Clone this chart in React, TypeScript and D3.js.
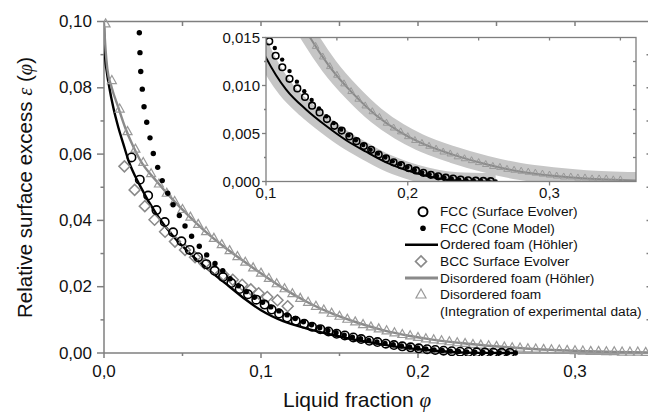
import React from 'react';
import * as d3 from 'd3';

const W = 648;
const H = 412;

// Ordered foam (Höhler) – black line
const ORDERED_PHI = [0, 0.0006, 0.0017, 0.0034, 0.0059, 0.0091, 0.0123, 0.0155, 0.0229, 0.0335, 0.0441, 0.0548, 0.0654, 0.0717, 0.08, 0.09, 0.1, 0.107, 0.1141, 0.1282, 0.1423, 0.1565, 0.1706, 0.1847, 0.1988, 0.2129, 0.227, 0.245, 0.262];
const ORDERED_EPS = [0.0985, 0.09, 0.0851, 0.0801, 0.0741, 0.0681, 0.0631, 0.0582, 0.0505, 0.0418, 0.0352, 0.03, 0.0256, 0.0231, 0.02, 0.0162, 0.0129, 0.0111, 0.0096, 0.0075, 0.0058, 0.0043, 0.0031, 0.002, 0.0012, 0.0006, 0.0002, 0.00003, 0];

// Disordered foam (Höhler) – gray line
const DIS_PHI = [0, 0.001, 0.0021, 0.0049, 0.0091, 0.0134, 0.0187, 0.0229, 0.0335, 0.0441, 0.0548, 0.0654, 0.076, 0.0866, 0.0973, 0.1142, 0.1306, 0.1447, 0.1611, 0.1776, 0.1941, 0.2082, 0.2317, 0.2553, 0.2788, 0.3023, 0.3258, 0.361];
const DIS_EPS = [0.0995, 0.0915, 0.0858, 0.0801, 0.0741, 0.0681, 0.0622, 0.0583, 0.0518, 0.0461, 0.041, 0.0363, 0.0322, 0.0285, 0.0249, 0.0195, 0.0151, 0.012, 0.0092, 0.0069, 0.0052, 0.0041, 0.0028, 0.0018, 0.00105, 0.0006, 0.0003, 0.0001];

// Disordered foam (integration of experimental data) – triangles
const TRI_PHI = [0.001, 0.005, 0.01, 0.015, 0.02, 0.025, 0.03, 0.035, 0.04, 0.045, 0.05, 0.055, 0.06, 0.065, 0.07, 0.075, 0.08, 0.085, 0.09, 0.095, 0.1, 0.105, 0.11, 0.115, 0.12, 0.125, 0.13, 0.135, 0.14, 0.145, 0.15, 0.155, 0.16, 0.165, 0.17, 0.175, 0.18, 0.185, 0.19, 0.195, 0.2, 0.205, 0.21, 0.215, 0.22, 0.225, 0.23, 0.235, 0.24, 0.245, 0.25, 0.255, 0.26, 0.265, 0.27, 0.275, 0.28, 0.285, 0.29, 0.295, 0.3, 0.305, 0.31, 0.315, 0.32, 0.325, 0.33, 0.335, 0.34, 0.345, 0.35];
const TRI_EPS = [0.0993, 0.0822, 0.0736, 0.0668, 0.0615, 0.0575, 0.0541, 0.051, 0.0482, 0.0457, 0.0433, 0.041, 0.0388, 0.0366, 0.0346, 0.0327, 0.0309, 0.0291, 0.0274, 0.0257, 0.0241, 0.0225, 0.0209, 0.0194, 0.0179, 0.0165, 0.0153, 0.0141, 0.013, 0.012, 0.0111, 0.0102, 0.0094, 0.0086, 0.0079, 0.0073, 0.0067, 0.0061, 0.0056, 0.0052, 0.0047, 0.0043, 0.004, 0.0037, 0.0034, 0.0031, 0.0029, 0.0026, 0.0024, 0.0022, 0.002, 0.0018, 0.0016, 0.0015, 0.0013, 0.0012, 0.0011, 0.001, 0.0009, 0.0008, 0.0007, 0.0006, 0.0005, 0.0005, 0.0004, 0.0004, 0.0003, 0.0003, 0.0003, 0.0002, 0.0002];

// FCC (Surface Evolver) – open circles
const FCC_PHI = [0.0175, 0.0228, 0.0281, 0.0334, 0.0387, 0.044, 0.0493, 0.0546, 0.0599, 0.0652, 0.0705, 0.0758, 0.0811, 0.0864, 0.0917, 0.097, 0.1023, 0.1068, 0.1115, 0.1166, 0.1221, 0.1275, 0.1325, 0.1378, 0.143, 0.1482, 0.1534, 0.1588, 0.1638, 0.169, 0.1742, 0.1795, 0.1847, 0.19, 0.1953, 0.2005, 0.2058, 0.211, 0.2163, 0.2215, 0.2268, 0.232, 0.2373, 0.2426, 0.248, 0.2533, 0.2585];
const FCC_EPS = [0.059, 0.0523, 0.0475, 0.0431, 0.0395, 0.0364, 0.0337, 0.0311, 0.0289, 0.0268, 0.0248, 0.0229, 0.0211, 0.0193, 0.0177, 0.0161, 0.0146, 0.0131, 0.0119, 0.0107, 0.0097, 0.0088, 0.0079, 0.0072, 0.0065, 0.0058, 0.0053, 0.0047, 0.0042, 0.0037, 0.0033, 0.0028, 0.0024, 0.002, 0.0017, 0.0014, 0.00115, 0.0009, 0.0007, 0.00054, 0.0004, 0.0003, 0.0002, 0.00013, 0.00009, 0.00006, 0.00003];

// FCC (Cone model) – filled dots
const CONE_PHI = [0.0225, 0.0229, 0.0234, 0.0244, 0.0255, 0.0272, 0.0293, 0.0314, 0.0342, 0.0371, 0.0406, 0.044, 0.048, 0.0516, 0.0558, 0.0607, 0.0654, 0.0707, 0.0756, 0.0803, 0.0856, 0.0906, 0.0958, 0.101, 0.1062, 0.1114, 0.1166, 0.1218, 0.127, 0.1322, 0.1374, 0.1426, 0.1478, 0.153, 0.1582, 0.1634, 0.1686, 0.1738, 0.179, 0.1842, 0.1894, 0.1946, 0.1998, 0.205, 0.2102, 0.2154, 0.2206, 0.2258, 0.231, 0.2362, 0.2414, 0.2466, 0.2518, 0.257, 0.262];
const CONE_EPS = [0.0966, 0.0906, 0.0849, 0.0796, 0.0743, 0.0696, 0.0649, 0.0602, 0.056, 0.052, 0.0482, 0.0447, 0.0415, 0.0383, 0.0352, 0.0322, 0.0296, 0.027, 0.0248, 0.0224, 0.0203, 0.0185, 0.0168, 0.0153, 0.0139, 0.0127, 0.0115, 0.0104, 0.0094, 0.0085, 0.0076, 0.0068, 0.0061, 0.0054, 0.0048, 0.0043, 0.0038, 0.0033, 0.0029, 0.0025, 0.0021, 0.0018, 0.0015, 0.0012, 0.00095, 0.00075, 0.00058, 0.00043, 0.00031, 0.00021, 0.00014, 0.00009, 0.00005, 0.00002, 0.00001];

// BCC Surface Evolver – gray diamonds
const BCC_PHI = [0.013, 0.0195, 0.026, 0.0322, 0.0389, 0.0452, 0.0516, 0.058, 0.064, 0.07, 0.076, 0.082, 0.088, 0.0935, 0.0985, 0.104, 0.1105, 0.117];
const BCC_EPS = [0.0563, 0.0492, 0.0443, 0.0402, 0.0366, 0.0336, 0.0311, 0.0289, 0.027, 0.0252, 0.0236, 0.0221, 0.0206, 0.0192, 0.018, 0.0169, 0.0159, 0.0141];

const MAIN_X_TICKS = [0, 0.1, 0.2, 0.3];
const MAIN_X_LABELS = ['0,0', '0,1', '0,2', '0,3'];
const MAIN_Y_TICKS = [0, 0.02, 0.04, 0.06, 0.08, 0.1];
const MAIN_Y_LABELS = ['0,00', '0,02', '0,04', '0,06', '0,08', '0,10'];
const INSET_X_TICKS = [0.1, 0.2, 0.3];
const INSET_X_LABELS = ['0,1', '0,2', '0,3'];
const INSET_Y_TICKS = [0, 0.005, 0.01, 0.015];
const INSET_Y_LABELS = ['0,000', '0,005', '0,010', '0,015'];

const LEGEND_LABELS = [
  'FCC (Surface Evolver)',
  'FCC (Cone Model)',
  'Ordered foam (Höhler)',
  'BCC Surface Evolver',
  'Disordered foam (Höhler)',
  'Disordered foam',
  '(Integration of experimental data)',
];

const FONT = 'Liberation Sans, Arial, sans-serif';
const SERIF = 'Liberation Serif, serif';
const AXIS = '#7f7f7f';
const GRAY = '#8a8a8a';
const TRI_GRAY = '#999999';
const BAND = '#c6c6c6';

const zip = (a: number[], b: number[]) => a.map((v, i) => [v, b[i]] as [number, number]);

const diamond = (s: number) => `M0,${-s}L${s},0L0,${s}L${-s},0Z`;
const triangle = (w: number, h: number) => `M0,${-h * 0.62}L${w / 2},${h * 0.38}L${-w / 2},${h * 0.38}Z`;

export default function App() {
  const x = d3.scaleLinear().domain([0, 0.35]).range([104, 653.5]);
  const y = d3.scaleLinear().domain([0, 0.1]).range([353, 21.5]);
  const xi = d3.scaleLinear().domain([0.1, 0.361]).range([266, 636]);
  const yi = d3.scaleLinear().domain([0, 0.015]).range([181.5, 37.5]);

  const ordered = zip(ORDERED_PHI, ORDERED_EPS);
  const disordered = zip(DIS_PHI, DIS_EPS);
  const tri = zip(TRI_PHI, TRI_EPS);
  const fcc = zip(FCC_PHI, FCC_EPS);
  const cone = zip(CONE_PHI, CONE_EPS);
  const bcc = zip(BCC_PHI, BCC_EPS);

  const lineMain = d3.line<[number, number]>().x(d => x(d[0])).y(d => y(d[1])).curve(d3.curveMonotoneX);
  const lineInset = d3.line<[number, number]>().x(d => xi(d[0])).y(d => yi(d[1])).curve(d3.curveMonotoneX);

  const inInset = (d: [number, number]) => d[0] >= 0.1 && d[1] <= 0.0152;

  const xMinor = [0.05, 0.15, 0.25];
  const yMinor = [0.01, 0.03, 0.05, 0.07, 0.09];
  const topTicks = [0.05, 0.1, 0.15, 0.2, 0.25, 0.3];
  const rightTicks = [0.01, 0.02, 0.03, 0.04, 0.05, 0.06, 0.07, 0.08, 0.09];
  const insetTop = [0.15, 0.2, 0.25, 0.3, 0.35];
  const insetMinorY = [0.0025, 0.0075, 0.0125];
  const insetRightY = [0.0025, 0.005, 0.0075, 0.01, 0.0125];

  const legX = 423;
  const legText = 440;
  const legY = [211.7, 228.3, 244.8, 261.4, 278, 294.6, 311.3];

  const [x0, x1] = xi.range();
  const [yb, yt] = yi.range();

  return (
    <svg width={W} height={H} style={{ position: 'absolute', left: 0, top: 0, background: '#fff' }} fontFamily={FONT}>
      <defs>
        <clipPath id="mainClip">
          <rect x={104} y={0} width={560} height={356} />
        </clipPath>
        <clipPath id="insetClip">
          <rect x={x0} y={yt} width={x1 - x0} height={yb - yt} />
        </clipPath>
      </defs>
      <rect width={W} height={H} fill="#fff" />

      {/* main axes frame */}
      <g stroke={AXIS} strokeWidth={1.5} fill="none">
        <line x1={104} y1={353} x2={653.5} y2={353} />
        <line x1={104} y1={21.5} x2={653.5} y2={21.5} />
        <line x1={104} y1={21.5} x2={104} y2={353} />
        <line x1={653.5} y1={21.5} x2={653.5} y2={353} />
        {MAIN_Y_TICKS.map(t => <line key={'ym' + t} x1={97} x2={104} y1={y(t)} y2={y(t)} />)}
        {yMinor.map(t => <line key={'yn' + t} x1={100.5} x2={104} y1={y(t)} y2={y(t)} />)}
        {MAIN_X_TICKS.map(t => <line key={'xm' + t} x1={x(t)} x2={x(t)} y1={353} y2={358} />)}
        {xMinor.map(t => <line key={'xn' + t} x1={x(t)} x2={x(t)} y1={353} y2={356} />)}
        {topTicks.map(t => <line key={'xt' + t} x1={x(t)} x2={x(t)} y1={21.5} y2={26} />)}
        {rightTicks.map(t => <line key={'yr' + t} x1={646.5} x2={653.5} y1={y(t)} y2={y(t)} />)}
      </g>
      <g fontSize={17} fill="#111">
        {MAIN_Y_TICKS.map((t, i) => (
          <text key={'yl' + t} x={92} y={y(t)} textAnchor="end" dominantBaseline="central">{MAIN_Y_LABELS[i]}</text>
        ))}
        {MAIN_X_TICKS.map((t, i) => (
          <text key={'xl' + t} x={x(t)} y={377} textAnchor="middle">{MAIN_X_LABELS[i]}</text>
        ))}
      </g>
      <text x={283} y={407} fontSize={21} fill="#111">
        Liquid fraction <tspan fontStyle="italic" fontFamily={SERIF}>φ</tspan>
      </text>
      <text transform="translate(32,318) rotate(-90)" fontSize={20.5} fill="#111">
        Relative surface excess <tspan fontStyle="italic" fontFamily={SERIF}>ε</tspan> (<tspan fontStyle="italic" fontFamily={SERIF}>φ</tspan>)
      </text>

      {/* main data */}
      <g clipPath="url(#mainClip)">
        <path d={lineMain(ordered) || ''} fill="none" stroke="#000" strokeWidth={2.4} />
        <path d={lineMain(disordered) || ''} fill="none" stroke={GRAY} strokeWidth={2.4} />
        {tri.map((d, i) => (
          <path key={'t' + i} d={triangle(9, 8)} transform={`translate(${x(d[0])},${y(d[1])})`} fill="none" stroke={TRI_GRAY} strokeWidth={1.2} />
        ))}
        {bcc.map((d, i) => (
          <path key={'b' + i} d={diamond(5.5)} transform={`translate(${x(d[0])},${y(d[1])})`} fill="none" stroke={GRAY} strokeWidth={1.5} />
        ))}
        {fcc.map((d, i) => (
          <circle key={'f' + i} cx={x(d[0])} cy={y(d[1])} r={4.2} fill="none" stroke="#000" strokeWidth={1.6} />
        ))}
        {cone.map((d, i) => (
          <circle key={'c' + i} cx={x(d[0])} cy={y(d[1])} r={2.7} fill="#000" />
        ))}
      </g>

      {/* inset */}
      <rect x={x0} y={yt} width={x1 - x0} height={yb - yt} fill="#fff" />
      <g clipPath="url(#insetClip)">
        <path d={lineInset(ordered) || ''} fill="none" stroke={BAND} strokeWidth={17} />
        <path d={lineInset(disordered) || ''} fill="none" stroke={BAND} strokeWidth={17} />
        <path d={lineInset(ordered) || ''} fill="none" stroke="#000" strokeWidth={2} />
        <path d={lineInset(disordered) || ''} fill="none" stroke={GRAY} strokeWidth={2} />
        {tri.filter(inInset).map((d, i) => (
          <path key={'it' + i} d={triangle(6.5, 6)} transform={`translate(${xi(d[0])},${yi(d[1])})`} fill="none" stroke={TRI_GRAY} strokeWidth={1} />
        ))}
        {fcc.filter(inInset).map((d, i) => (
          <circle key={'if' + i} cx={xi(d[0])} cy={yi(d[1])} r={3.3} fill="none" stroke="#000" strokeWidth={1.6} />
        ))}
        {cone.filter(inInset).map((d, i) => (
          <circle key={'ic' + i} cx={xi(d[0])} cy={yi(d[1])} r={2.2} fill="#000" />
        ))}
      </g>
      <g stroke={AXIS} strokeWidth={1.3} fill="none">
        <rect x={x0} y={yt} width={x1 - x0} height={yb - yt} />
        {INSET_Y_TICKS.map(t => <line key={'iy' + t} x1={x0 - 4} x2={x0} y1={yi(t)} y2={yi(t)} />)}
        {insetMinorY.map(t => <line key={'iym' + t} x1={x0 - 2} x2={x0} y1={yi(t)} y2={yi(t)} />)}
        {INSET_X_TICKS.map(t => <line key={'ix' + t} x1={xi(t)} x2={xi(t)} y1={yb} y2={yb + 4} />)}
        {insetTop.map(t => <line key={'itp' + t} x1={xi(t)} x2={xi(t)} y1={yt} y2={yt + 3} />)}
        {insetRightY.map(t => <line key={'ir' + t} x1={x1 - 3} x2={x1} y1={yi(t)} y2={yi(t)} />)}
      </g>
      <g fontSize={15} fill="#111">
        {INSET_Y_TICKS.map((t, i) => (
          <text key={'iyl' + t} x={x0 - 6} y={yi(t)} textAnchor="end" dominantBaseline="central">{INSET_Y_LABELS[i]}</text>
        ))}
        {INSET_X_TICKS.map((t, i) => (
          <text key={'ixl' + t} x={xi(t)} y={198} textAnchor="middle">{INSET_X_LABELS[i]}</text>
        ))}
      </g>

      {/* legend */}
      <g>
        <circle cx={legX} cy={legY[0]} r={4.5} fill="none" stroke="#000" strokeWidth={2} />
        <circle cx={legX} cy={legY[1]} r={2.8} fill="#000" />
        <line x1={405} x2={438} y1={legY[2]} y2={legY[2]} stroke="#000" strokeWidth={2.5} />
        <path d={diamond(5.5)} transform={`translate(${legX - 2},${legY[3]})`} fill="none" stroke={GRAY} strokeWidth={1.6} />
        <line x1={405} x2={438} y1={legY[4]} y2={legY[4]} stroke={GRAY} strokeWidth={3} />
        <path d={triangle(10, 9)} transform={`translate(${legX - 2},${legY[5]})`} fill="none" stroke={TRI_GRAY} strokeWidth={1.2} />
        <g fontSize={13.7} fill="#111">
          {LEGEND_LABELS.map((s, i) => (
            <text key={'lg' + i} x={legText} y={legY[i]} dominantBaseline="central">{s}</text>
          ))}
        </g>
      </g>
    </svg>
  );
}
